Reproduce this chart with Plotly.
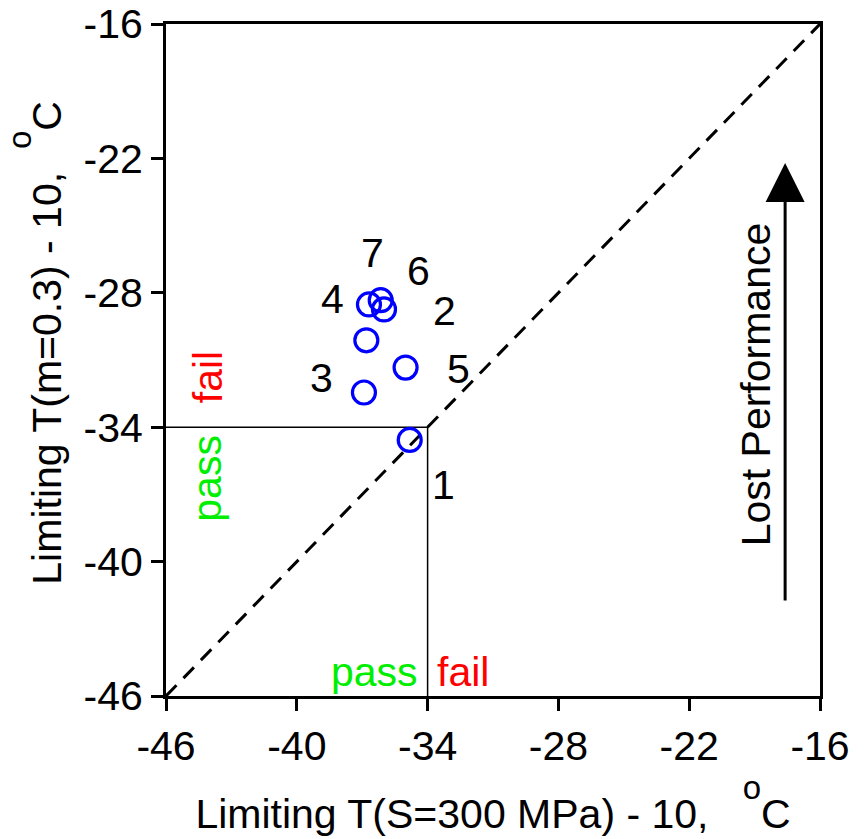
import plotly.graph_objects as go

# data: sample points (label, x, y)
point_labels = ["1", "2", "3", "4", "5", "6", "7"]
x_vals = [-34.82, -36.81, -36.92, -36.69, -35.01, -36.0, -36.15]
y_vals = [-34.57, -30.12, -32.45, -28.52, -31.34, -28.74, -28.33]

# label text positions
label_x = [-33.27, -33.22, -38.87, -38.36, -32.58, -34.41, -36.53]
label_y = [-36.6, -28.82, -31.79, -28.28, -31.4, -27.04, -26.22]

tick_vals = [-46, -40, -34, -28, -22, -16]
tick_text = ["-46", "-40", "-34", "-28", "-22", "-16"]

limit = -34
axis_min, axis_max = -46, -16
arrow_x = -17.6
arrow_y0, arrow_y1 = -41.8, -22.2

FONT = "Liberation Sans, Arial, sans-serif"
FS = 41
DEG = "<sup><sup><span style='font-size:33px'>o</span></sup></sup>"

fig = go.Figure()

# diagonal dashed line
fig.add_trace(go.Scatter(x=[axis_min, axis_max], y=[axis_min, axis_max], mode="lines",
                         line=dict(color="black", width=3, dash="15px,10px"),
                         showlegend=False, hoverinfo="skip"))
# pass/fail boundary lines
fig.add_trace(go.Scatter(x=[axis_min, limit, limit], y=[limit, limit, axis_min], mode="lines",
                         line=dict(color="black", width=1.5),
                         showlegend=False, hoverinfo="skip"))
# points
fig.add_trace(go.Scatter(x=x_vals, y=y_vals, mode="markers",
                         marker=dict(symbol="circle-open", size=23, color="#0000ff",
                                     line=dict(width=3.2, color="#0000ff")),
                         showlegend=False))

annotations = []
for t, lx, ly in zip(point_labels, label_x, label_y):
    annotations.append(dict(x=lx, y=ly, text=t, showarrow=False,
                            font=dict(size=FS, color="black", family=FONT)))

annotations += [
    dict(x=-44.1, y=limit + 1.0, text="fail", textangle=-90, showarrow=False,
         yanchor="bottom", font=dict(size=FS, color="#ff0000", family=FONT)),
    dict(x=-44.1, y=limit - 0.25, text="pass", textangle=-90, showarrow=False,
         yanchor="top", font=dict(size=FS, color="#00ee00", family=FONT)),
    dict(x=limit - 0.35, y=-44.95, text="pass", showarrow=False, xanchor="right",
         font=dict(size=FS, color="#00ee00", family=FONT)),
    dict(x=limit + 0.35, y=-44.95, text="fail", showarrow=False, xanchor="left",
         font=dict(size=FS, color="#ff0000", family=FONT)),
    dict(x=-18.95, y=-32.1, text="Lost Performance", textangle=-90, showarrow=False,
         font=dict(size=FS, color="black", family=FONT)),
    dict(x=arrow_x, y=arrow_y1, ax=arrow_x, ay=arrow_y0, xref="x", yref="y",
         axref="x", ayref="y", text="", showarrow=True, arrowhead=2, arrowsize=2.6,
         arrowwidth=3, arrowcolor="black"),
]

axis_common = dict(range=[axis_min, axis_max], tickvals=tick_vals, ticktext=tick_text,
                   showgrid=False, zeroline=False, showline=True, linecolor="black",
                   linewidth=3, mirror=True, ticks="outside", ticklen=12, tickwidth=3,
                   tickcolor="black", automargin=False, ticklabeloverflow="allow",
                   tickfont=dict(size=FS, color="black", family=FONT))

fig.update_layout(
    width=864, height=839,
    margin=dict(l=166, r=44, t=24, b=143),
    paper_bgcolor="white", plot_bgcolor="white",
    xaxis=dict(**axis_common,
               title=dict(text="Limiting T(S=300 MPa) - 10,   " + DEG + "C",
                          font=dict(size=FS, color="black", family=FONT), standoff=18)),
    yaxis=dict(**axis_common,
               title=dict(text="&nbsp;&nbsp;&nbsp;Limiting T(m=0.3) - 10,  " + DEG + "C",
                          font=dict(size=FS, color="black", family=FONT), standoff=10)),
    annotations=annotations,
    showlegend=False,
)

fig.write_html("out.html")
